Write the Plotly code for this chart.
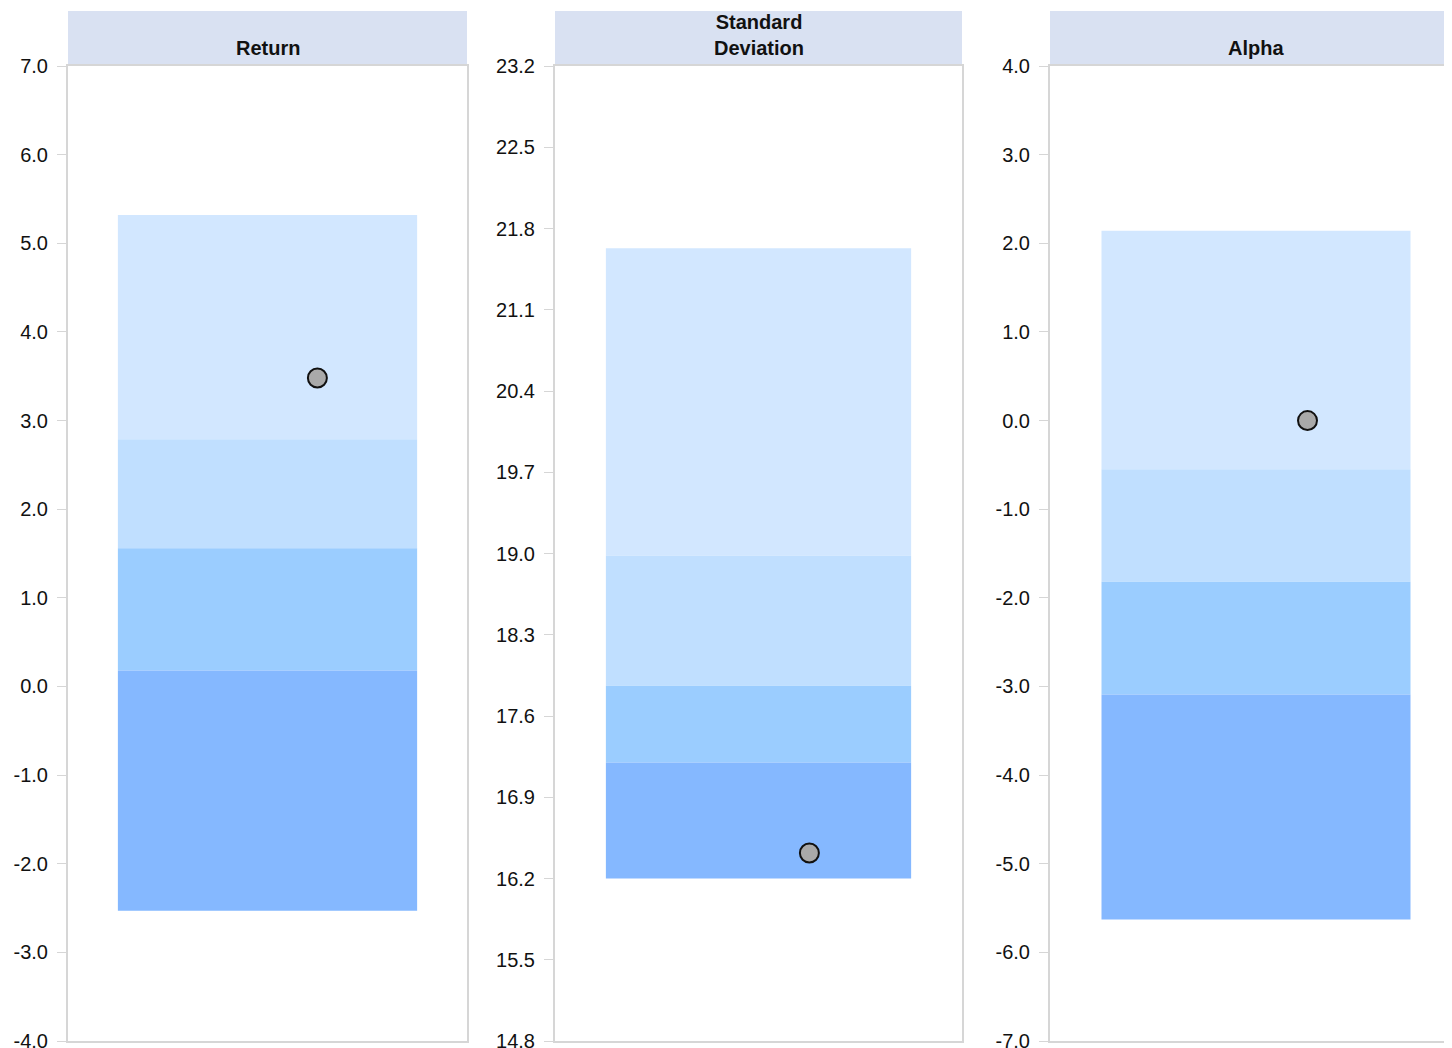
import plotly.graph_objects as go

# ---- data ----
panel_titles = ["Return", "Standard<br>Deviation", "Alpha"]
# quartile boundaries (top -> bottom): max, Q1/Q2, Q2/Q3, Q3/Q4, min
return_bounds = [5.32, 2.79, 1.56, 0.18, -2.53]
stdev_bounds = [21.63, 18.98, 17.86, 17.20, 16.20]
alpha_bounds = [2.14, -0.55, -1.82, -3.09, -5.63]
fund_values = [3.48, 16.42, 0.00]

return_ticks = [7.0, 6.0, 5.0, 4.0, 3.0, 2.0, 1.0, 0.0, -1.0, -2.0, -3.0, -4.0]
stdev_ticks = [23.2, 22.5, 21.8, 21.1, 20.4, 19.7, 19.0, 18.3, 17.6, 16.9, 16.2, 15.5, 14.8]
alpha_ticks = [4.0, 3.0, 2.0, 1.0, 0.0, -1.0, -2.0, -3.0, -4.0, -5.0, -6.0, -7.0]
return_tick_labels = ["7.0", "6.0", "5.0", "4.0", "3.0", "2.0", "1.0", "0.0", "-1.0", "-2.0", "-3.0", "-4.0"]
stdev_tick_labels = ["23.2", "22.5", "21.8", "21.1", "20.4", "19.7", "19.0", "18.3", "17.6", "16.9", "16.2", "15.5", "14.8"]
alpha_tick_labels = ["4.0", "3.0", "2.0", "1.0", "0.0", "-1.0", "-2.0", "-3.0", "-4.0", "-5.0", "-6.0", "-7.0"]

# ---- styling ----
W, H = 1470, 1052
band_colors = ["#d2e7ff", "#c0dfff", "#9bcdff", "#85b8ff"]
header_color = "#d9e1f2"
axis_color = "#d6d6d6"
font_family = "Liberation Sans, Arial, sans-serif"

# pixel layout of panels (figure coords)
panel_px = [(60, 459), (547, 954), (1042, 1454)]
plot_top, plot_bottom = 58, 1033
header_top = 3
marker_offset = 0.125
bar_width = 0.75

all_bounds = [return_bounds, stdev_bounds, alpha_bounds]
all_ticks = [return_ticks, stdev_ticks, alpha_ticks]
all_tick_labels = [return_tick_labels, stdev_tick_labels, alpha_tick_labels]

fig = go.Figure()
for i in range(3):
    xa = "x" if i == 0 else f"x{i+1}"
    ya = "y" if i == 0 else f"y{i+1}"
    b = all_bounds[i]
    for k in range(4):
        fig.add_trace(go.Bar(
            x=[0], y=[b[k] - b[k + 1]], base=[b[k + 1]], width=[bar_width],
            marker=dict(color=band_colors[k], line=dict(width=0)),
            xaxis=xa, yaxis=ya, showlegend=False, hoverinfo="skip"))
    fig.add_trace(go.Scatter(
        x=[marker_offset], y=[fund_values[i]], mode="markers",
        marker=dict(size=19, color="#a9a9a9", line=dict(color="#111111", width=2)),
        xaxis=xa, yaxis=ya, showlegend=False))

layout = dict(
    width=W, height=H, margin=dict(l=0, r=0, t=0, b=0),
    paper_bgcolor="white", plot_bgcolor="white",
    font=dict(family=font_family, size=20, color="#111111"),
    barmode="overlay", showlegend=False,
)
ydom = [(H - plot_bottom) / H, (H - plot_top) / H]
shapes, annotations = [], []
for i in range(3):
    x0, x1 = panel_px[i]
    xd = [x0 / W, x1 / W]
    xkey = "xaxis" if i == 0 else f"xaxis{i+1}"
    ykey = "yaxis" if i == 0 else f"yaxis{i+1}"
    ya = "y" if i == 0 else f"y{i+1}"
    xa = "x" if i == 0 else f"x{i+1}"
    ticks = all_ticks[i]
    layout[xkey] = dict(domain=xd, range=[-0.5, 0.5], showticklabels=False,
                        showgrid=False, zeroline=False, showline=True, mirror=True,
                        linecolor=axis_color, linewidth=2, ticks="", fixedrange=True,
                        anchor=ya)
    layout[ykey] = dict(domain=ydom, range=[min(ticks), max(ticks)],
                        tickmode="array", tickvals=ticks, ticktext=all_tick_labels[i],
                        showgrid=False, zeroline=False, showline=True, mirror=True,
                        linecolor=axis_color, linewidth=2, ticks="outside", ticklen=9,
                        tickcolor=axis_color, tickwidth=1, ticklabelstandoff=5,
                        ticklabeloverflow="allow",
                        tickfont=dict(size=20, color="#111111"), anchor=xa,
                        automargin=False)
    shapes.append(dict(type="rect", xref="paper", yref="paper",
                       x0=x0 / W, x1=x1 / W, y0=(H - plot_top) / H, y1=(H - header_top) / H,
                       fillcolor=header_color, line=dict(width=0), layer="below"))
    annotations.append(dict(xref="paper", yref="paper",
                            x=(x0 + x1) / 2 / W,
                            y=(H - plot_top + 5) / H, xanchor="center", yanchor="bottom",
                            text=f"<b>{panel_titles[i]}</b>", showarrow=False,
                            font=dict(size=20, color="#111111"), align="center"))
layout["shapes"] = shapes
layout["annotations"] = annotations
fig.update_layout(**layout)
fig.write_html("out.html", config={"displayModeBar": False})
